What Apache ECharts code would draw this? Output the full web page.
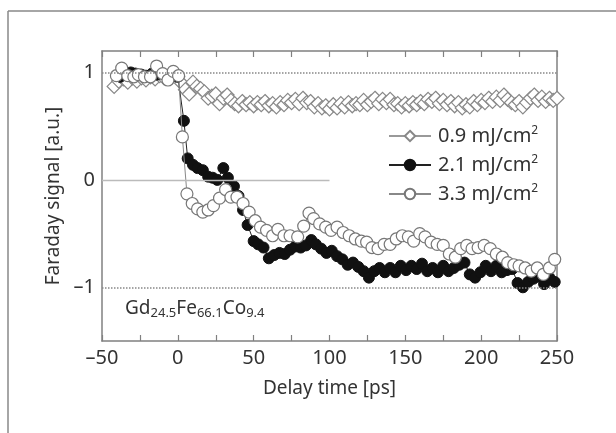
<!DOCTYPE html>
<html><head><meta charset="utf-8">
<script src="https://cdn.jsdelivr.net/npm/echarts@6/dist/echarts.min.js"></script>
<style>html,body{margin:0;padding:0;background:#fff}#c{width:616px;height:433px}</style>
</head><body><div id="c"></div>
<script>
// ---- data ----
const energies = ['0.9', '2.1', '3.3'];
const xTickLabels = [-50, 0, 50, 100, 150, 200, 250];
const yTickLabels = [-1, 0, 1];

const t09 = [-42,-39,-36,-33,-30,-27,-24,-21,-18,-15,-12,-9,-6,-3,0,2.5,5,7.5,10,12.5,15,17.5,20,22.5,25,27.5,30,32.5,35,37.5,40,42.5,45,47.5,50,52.5,55,57.5,60,62.5,65,67.5,70,72.5,75,77.5,80,82.5,85,87.5,90,92.5,95,97.5,100,102.5,105,107.5,110,112.5,115,117.5,120,122.5,125,127.5,130,132.5,135,137.5,140,142.5,145,147.5,150,152.5,155,157.5,160,162.5,165,167.5,170,172.5,175,177.5,180,182.5,185,187.5,190,192.5,195,197.5,200,202.5,205,207.5,210,212.5,215,217.5,220,222.5,225,227.5,230,232.5,235,237.5,240,242.5,245,247.5,250];
const v09 = [0.87,0.92,0.94,0.91,0.95,0.92,0.95,0.93,0.96,0.94,0.97,0.95,0.96,0.97,0.96,0.90,0.84,0.80,0.91,0.87,0.85,0.82,0.76,0.78,0.80,0.71,0.76,0.79,0.74,0.71,0.69,0.73,0.70,0.72,0.69,0.72,0.70,0.73,0.69,0.71,0.68,0.72,0.70,0.74,0.72,0.75,0.71,0.76,0.72,0.73,0.68,0.71,0.67,0.69,0.66,0.70,0.67,0.71,0.68,0.72,0.69,0.71,0.70,0.74,0.70,0.73,0.76,0.71,0.75,0.72,0.75,0.70,0.71,0.68,0.71,0.69,0.72,0.70,0.73,0.71,0.75,0.73,0.76,0.71,0.74,0.70,0.73,0.69,0.72,0.67,0.70,0.68,0.73,0.70,0.74,0.72,0.76,0.73,0.77,0.74,0.79,0.75,0.72,0.70,0.73,0.68,0.72,0.76,0.79,0.74,0.77,0.73,0.76,0.74,0.76];

const t21 = [-38,-35,-31,-28,-24,-21,-17,-14,-10,-7,-3,0,4,6.5,10,13,16.5,20,23,26,30,33,37,40,43,46,50,53,56.5,60,63.5,67,70.5,74,77.5,81,84.5,88,91,94.5,98,101.5,105,108.5,112,115.5,119,122.5,126,129.5,133,136.5,140,143.5,147,150.5,154,157.5,161,164.5,168,171.5,175,178.5,182,185.5,189,192.5,196,199.5,203,206.5,210,213.5,217,220.5,224,227.5,231,234.5,238,241.5,245,248.5];
const v21 = [0.96,0.99,1.00,0.99,0.98,0.97,0.99,0.98,0.99,0.97,0.98,0.96,0.55,0.20,0.14,0.11,0.09,0.03,0.02,0.00,0.11,0.02,-0.06,-0.15,-0.28,-0.42,-0.57,-0.60,-0.63,-0.73,-0.70,-0.68,-0.69,-0.65,-0.62,-0.63,-0.61,-0.56,-0.60,-0.64,-0.68,-0.66,-0.71,-0.74,-0.79,-0.77,-0.81,-0.85,-0.91,-0.85,-0.82,-0.86,-0.82,-0.86,-0.80,-0.84,-0.80,-0.83,-0.78,-0.85,-0.82,-0.86,-0.80,-0.85,-0.82,-0.79,-0.77,-0.88,-0.91,-0.86,-0.80,-0.85,-0.80,-0.86,-0.84,-0.83,-0.96,-1.00,-0.95,-0.92,-0.90,-0.97,-0.91,-0.95];

const t33 = [-40.5,-37,-33,-29,-26,-22,-18,-14,-10,-6.5,-3,0.5,3,6,9.5,13,16.5,20,23.5,27.5,31.5,35,39,43,47,51,54.5,58.5,62.5,66,70,74,79,83,86.5,89.5,93.5,97.5,101,105,109,113,117,121,124.5,128,132,136,140,144,148,152,155.5,159.5,163,167,171,175,179,183,186.5,190.5,194,198,202,206,210,214,217.5,221.5,225,229,233,237,241,245,248.5];
const v33 = [0.97,1.04,0.97,0.96,0.98,0.96,0.96,1.06,0.99,0.93,1.01,0.97,0.40,-0.13,-0.22,-0.27,-0.30,-0.28,-0.24,-0.17,-0.09,-0.16,-0.16,-0.22,-0.30,-0.38,-0.44,-0.47,-0.52,-0.46,-0.52,-0.52,-0.53,-0.43,-0.31,-0.36,-0.41,-0.44,-0.47,-0.44,-0.49,-0.52,-0.55,-0.57,-0.58,-0.63,-0.64,-0.60,-0.60,-0.55,-0.52,-0.53,-0.57,-0.50,-0.53,-0.58,-0.60,-0.61,-0.69,-0.72,-0.64,-0.61,-0.64,-0.63,-0.61,-0.64,-0.69,-0.72,-0.77,-0.79,-0.80,-0.82,-0.85,-0.82,-0.88,-0.82,-0.74];

// ---- chart ----
const FONT = '"Noto Sans", "Noto Sans CJK JP", sans-serif';
const TXT = '#333';
const AX = '#808080';
const zip = (xs, ys) => xs.map((x, i) => [x, ys[i]]);
const names = energies.map(e => e + ' mJ/cm2');
const fmtNum = v => (v < 0 ? '\u2013' + (-v) : String(v));

const chart = echarts.init(document.getElementById('c'), null, {renderer: 'canvas'});
chart.setOption({
  animation: false,
  backgroundColor: '#fff',
  textStyle: {fontFamily: FONT, color: TXT},
  grid: {left: 102, right: 59, top: 51, bottom: 92, containLabel: false},
  xAxis: [{
    type: 'value', min: -50, max: 250, interval: 25, position: 'bottom',
    name: 'Delay time [ps]', nameLocation: 'middle', nameGap: 38,
    nameTextStyle: {fontSize: 19, color: TXT, fontFamily: FONT},
    axisLine: {show: true, onZero: false, lineStyle: {color: AX, width: 1.5}},
    axisTick: {show: true, inside: true, length: 6, lineStyle: {color: AX, width: 1.2}},
    axisLabel: {fontSize: 20, color: TXT, margin: 7, fontFamily: FONT,
      formatter: v => (xTickLabels.indexOf(v) >= 0 ? fmtNum(v) : '')},
    splitLine: {show: false}
  }, {
    type: 'value', min: -50, max: 250, interval: 25, position: 'top',
    axisLine: {show: true, onZero: false, lineStyle: {color: AX, width: 1.5}},
    axisTick: {show: true, inside: true, length: 6, lineStyle: {color: AX, width: 1.2}},
    axisLabel: {show: false}, splitLine: {show: false}
  }],
  yAxis: [{
    type: 'value', min: -1.5, max: 1.2, interval: 0.5, position: 'left',
    name: 'Faraday signal [a.u.]', nameLocation: 'middle', nameGap: 34,
    nameTextStyle: {fontSize: 19, color: TXT, fontFamily: FONT},
    axisLine: {show: true, onZero: false, lineStyle: {color: AX, width: 1.5}},
    axisTick: {show: false},
    axisLabel: {fontSize: 20, color: TXT, margin: 7, fontFamily: FONT, showMaxLabel: false,
      formatter: v => (yTickLabels.indexOf(v) >= 0 ? fmtNum(v) : '')},
    splitLine: {show: false}
  }, {
    type: 'value', min: -1.5, max: 1.2, interval: 0.5, position: 'right',
    axisLine: {show: true, onZero: false, lineStyle: {color: AX, width: 1.5}},
    axisTick: {show: false}, axisLabel: {show: false}, splitLine: {show: false}
  }],
  legend: {
    orient: 'vertical', left: 383, top: 120, itemWidth: 42, itemHeight: 13, itemGap: 8,
    data: names,
    formatter: n => '{t|' + n.slice(0, -1) + '}{s|2}',
    textStyle: {color: TXT, fontFamily: FONT, padding: [0, 0, 0, 2],
      rich: {t: {fontSize: 20, lineHeight: 22, color: TXT, fontFamily: FONT},
             s: {fontSize: 12, verticalAlign: 'top', lineHeight: 12, color: TXT, fontFamily: FONT}}}
  },
  graphic: [
    {type: 'line', shape: {x1: 8, y1: 11, x2: 616, y2: 11}, style: {stroke: '#888', lineWidth: 1.5}, silent: true},
    {type: 'line', shape: {x1: 8, y1: 11, x2: 8, y2: 433}, style: {stroke: '#888', lineWidth: 1.5}, silent: true},
    {type: 'text', left: 125, top: 299, silent: true,
      style: {text: '{n|Gd}{s|24.5}{n|Fe}{s|66.1}{n|Co}{s|9.4}', fill: TXT,
        rich: {n: {fontSize: 19, lineHeight: 22, fill: TXT, fontFamily: FONT},
               s: {fontSize: 13, lineHeight: 13, verticalAlign: 'bottom', fill: TXT, fontFamily: FONT}}}}
  ],
  series: [{
    name: names[0], type: 'line', data: zip(t09, v09), symbol: 'diamond', symbolSize: 14,
    showAllSymbol: true, z: 2,
    lineStyle: {color: '#999', width: 1},
    itemStyle: {color: '#fff', borderColor: '#888', borderWidth: 1.2},
    markLine: {silent: true, symbol: 'none', label: {show: false},
      data: [
        {yAxis: 1, lineStyle: {type: 'dotted', color: '#888', width: 1.5}},
        {yAxis: -1, lineStyle: {type: 'dotted', color: '#888', width: 1.5}},
        [{coord: [-50, 0], lineStyle: {type: 'solid', color: '#bbb', width: 1.3}}, {coord: [100, 0]}]
      ]}
  }, {
    name: names[1], type: 'line', data: zip(t21, v21), symbol: 'circle', symbolSize: 11,
    showAllSymbol: true, z: 3,
    lineStyle: {color: '#222', width: 1},
    itemStyle: {color: '#111', borderColor: '#111', borderWidth: 1}
  }, {
    name: names[2], type: 'line', data: zip(t33, v33), symbol: 'circle', symbolSize: 12,
    showAllSymbol: true, z: 4,
    lineStyle: {color: '#888', width: 1},
    itemStyle: {color: '#fff', borderColor: '#777', borderWidth: 1.2}
  }]
});
</script></body></html>
